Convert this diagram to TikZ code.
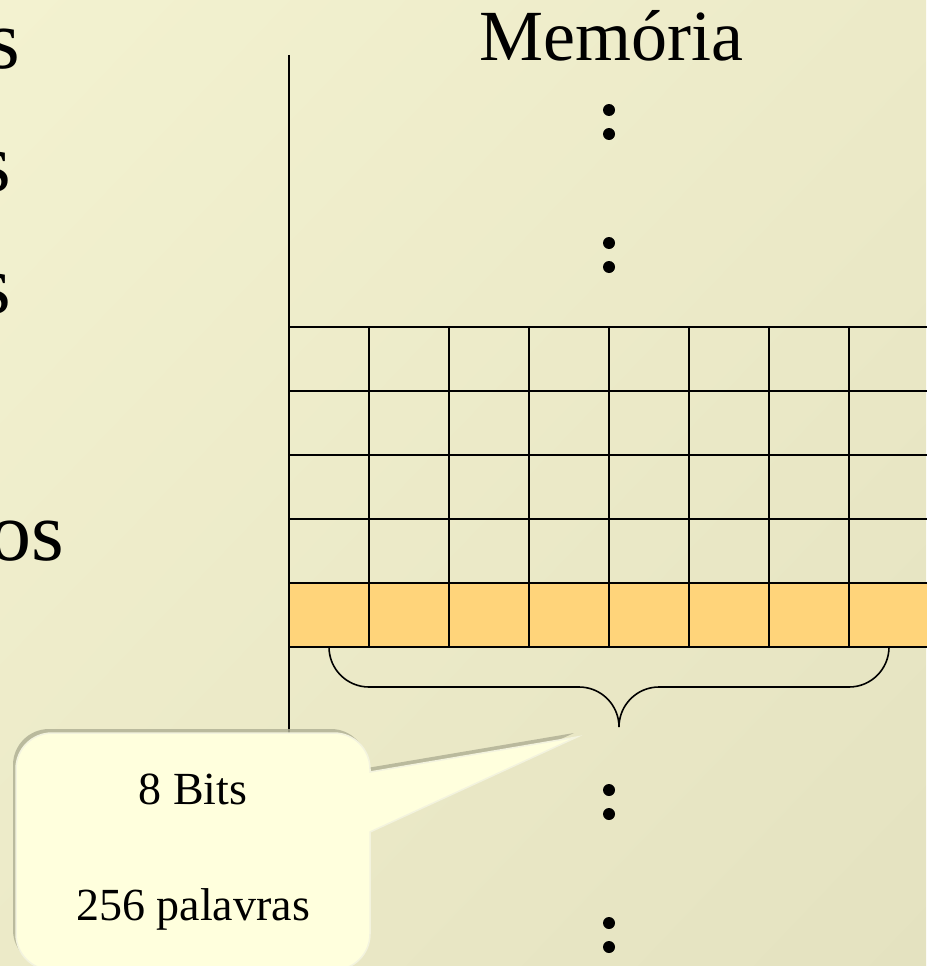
\documentclass[tikz,border=0pt]{standalone}
\usepackage{fontspec}
\usetikzlibrary{shadings}
\setmainfont{Liberation Serif}
\definecolor{bgTL}{RGB}{243,242,208}
\definecolor{bgBR}{RGB}{228,226,192}
\definecolor{bgMid}{RGB}{236,234,200}
\definecolor{rowhi}{RGB}{255,212,122}
\definecolor{notefill}{RGB}{255,255,221}
\definecolor{noterim}{RGB}{243,243,222}
\definecolor{noteshadow}{RGB}{178,178,150}
\begin{document}
\begin{tikzpicture}[x=1pt,y=-1pt,
  gridline/.style={line width=2pt},
  cell/.style={draw, line width=2pt, minimum width=80pt, minimum height=64pt,
    inner sep=0pt, outer sep=0pt, anchor=north west},
  hicell/.style={cell, fill=rowhi},
  memdot/.style={circle, fill=black, minimum size=12pt, inner sep=0pt},
  bigtxt/.style={inner sep=0pt, font=\fontsize{84}{96}\selectfont},
  titletxt/.style={inner sep=0pt, font=\fontsize{72}{80}\selectfont},
  notetxt/.style={inner sep=0pt, font=\fontsize{46}{52}\selectfont}]

% background
\useasboundingbox (0,0) rectangle (926,966);
\shade[upper left=bgTL, lower right=bgBR, upper right=bgMid, lower left=bgMid]
  (0,0) rectangle (926,966);

% truncated bullet text on the left
\node[bigtxt, anchor=base east] (t1) at (20,69) {s};
\node[bigtxt, anchor=base east] (t2) at (11,191) {s};
\node[bigtxt, anchor=base east] (t3) at (11,313) {s};
\node[bigtxt, anchor=base east] (t4) at (64,560) {os};

% title
\node[titletxt, anchor=base] (title) at (611,60) {Memória};

% memory words: 5 rows of 8 bits
\foreach \r in {0,...,3}
  \foreach \c in {0,...,7}
    \node[cell] (c-\r-\c) at (289+80*\c, 327+64*\r) {};
\foreach \c in {0,...,7}
  \node[hicell] (c-4-\c) at (289+80*\c, 583) {};

% address axis
\coordinate (axtop) at (289,55);
\coordinate (axbot) at (289,745);
\draw[gridline] (axtop) -- (c-0-0.north west);
\draw[gridline] (c-4-0.south west) -- (axbot);

% ellipsis dots
\foreach \y [count=\i] in {110,134,243,267,790,814,923,947}
  \node[memdot] (d\i) at (609,\y) {};

% brace under the highlighted word
\coordinate (brL) at (329,647);
\coordinate (brR) at (889,647);
\coordinate (brM) at (619,687);
\coordinate (brTip) at (619,727);
\draw[line width=1.6pt, rounded corners=40pt] (brL) |- (brM) -- (brTip);
\draw[line width=1.6pt, rounded corners=40pt] (brR) |- (brM) -- (brTip);

% callout with its shadow
\def\calloutpath{(52,733) -- (334,733) .. controls (353.9,733) and (370,749.1) .. (370,769)
  -- (370,772) -- (577,737) -- (370,832) -- (370,934)
  .. controls (370,953.9) and (353.9,970) .. (334,970) -- (52,970)
  .. controls (32.1,970) and (16,953.9) .. (16,934) -- (16,769)
  .. controls (16,749.1) and (32.1,733) .. (52,733) -- cycle}
\fill[noteshadow, opacity=0.85, shift={(-3,-4)}] \calloutpath;
\filldraw[fill=notefill, draw=noterim, line width=1.5pt] \calloutpath;

\node[notetxt, anchor=base] (n1) at (193,804) {8 Bits};
\node[notetxt, anchor=base] (n2) at (193,920) {256 palavras};
\end{tikzpicture}
\end{document}
